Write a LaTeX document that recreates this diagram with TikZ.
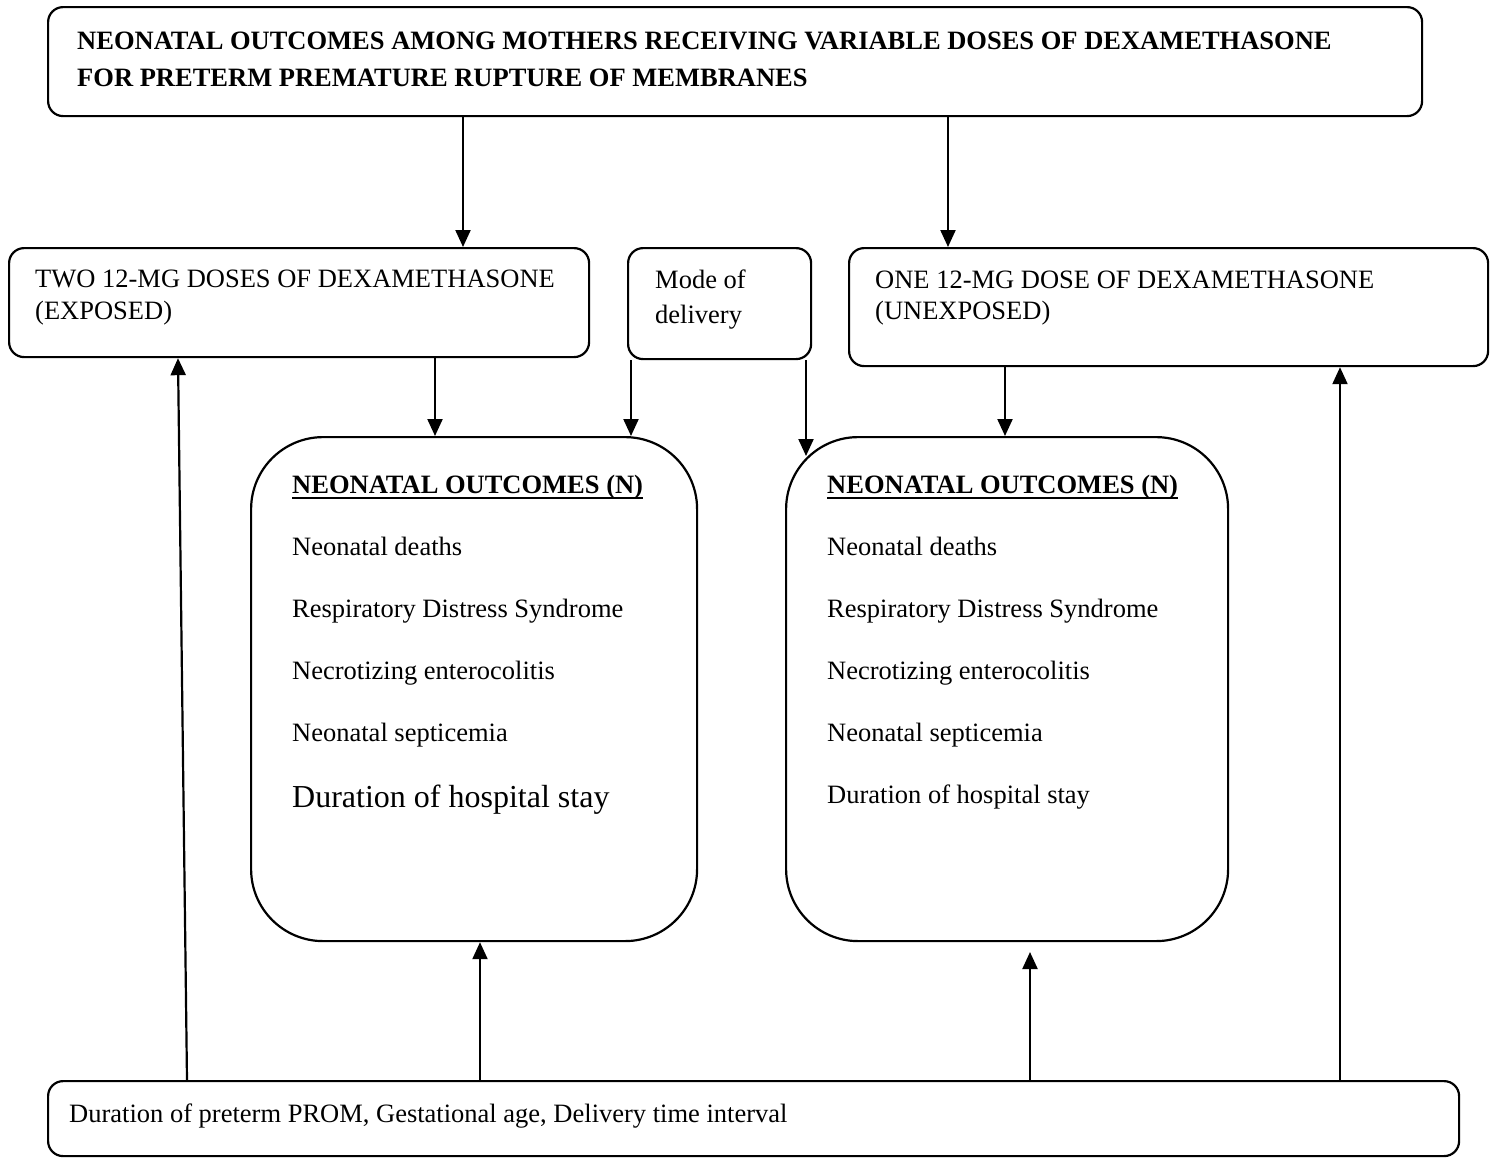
\documentclass[tikz,border=0pt]{standalone}
\usepackage{fontspec}
\setmainfont{Liberation Serif}
\usetikzlibrary{arrows.meta}
\begin{document}
\begin{tikzpicture}[x=1pt,y=-1pt,
  box/.style={draw, line width=2.2pt, rounded corners=15pt, inner sep=0pt, anchor=north west},
  bigbox/.style={box, rounded corners=72pt},
  txt/.style={inner sep=0pt, anchor=base west, font=\fontsize{26.5pt}{30pt}\selectfont},
  btxt/.style={inner sep=0pt, anchor=base west, font=\fontsize{26.5pt}{30pt}\selectfont\bfseries},
  ltxt/.style={inner sep=0pt, anchor=base west, font=\fontsize{32pt}{36pt}\selectfont},
  arr/.style={line width=2.2pt, -{Triangle[length=17pt,width=15pt]}}]
\useasboundingbox (0,0) rectangle (1496,1157);

% boxes
\node[box, minimum width=1374pt, minimum height=109pt] (top) at (47,6) {};
\node[box, minimum width=580pt, minimum height=109pt] (two) at (8,247) {};
\node[box, minimum width=183pt, minimum height=111pt] (mode) at (627,247) {};
\node[box, minimum width=639pt, minimum height=118pt] (one) at (848,247) {};
\node[bigbox, minimum width=446pt, minimum height=504pt] (n1) at (250,436) {};
\node[bigbox, minimum width=442pt, minimum height=504pt] (n2) at (785,436) {};
\node[box, minimum width=1411pt, minimum height=75pt] (bot) at (47,1080) {};

% texts
\node[btxt] (title1) at (77,49) {NEONATAL OUTCOMES AMONG MOTHERS RECEIVING VARIABLE DOSES OF DEXAMETHASONE};
\node[btxt] (title2) at (77,86) {FOR PRETERM PREMATURE RUPTURE OF MEMBRANES};
\node[txt] (two1) at (35,287) {TWO 12-MG DOSES OF DEXAMETHASONE};
\node[txt] (two2) at (35,319) {(EXPOSED)};
\node[txt] (mode1) at (655,288) {Mode of};
\node[txt] (mode2) at (655,323) {delivery};
\node[txt] (one1) at (875,288) {ONE 12-MG DOSE OF DEXAMETHASONE};
\node[txt] (one2) at (875,319) {(UNEXPOSED)};

\node[btxt] (h1) at (292,493) {NEONATAL OUTCOMES (N)};
\draw[line width=1.6pt] ([yshift=-5pt]h1.base west) -- ([yshift=-5pt]h1.base east);
\node[txt] (a1) at (292,555) {Neonatal deaths};
\node[txt] (b1) at (292,617) {Respiratory Distress Syndrome};
\node[txt] (c1) at (292,679) {Necrotizing enterocolitis};
\node[txt] (d1) at (292,741) {Neonatal septicemia};
\node[ltxt] (e1) at (292,807) {Duration of hospital stay};

\node[btxt] (h2) at (827,493) {NEONATAL OUTCOMES (N)};
\draw[line width=1.6pt] ([yshift=-5pt]h2.base west) -- ([yshift=-5pt]h2.base east);
\node[txt] (a2) at (827,555) {Neonatal deaths};
\node[txt] (b2) at (827,617) {Respiratory Distress Syndrome};
\node[txt] (c2) at (827,679) {Necrotizing enterocolitis};
\node[txt] (d2) at (827,741) {Neonatal septicemia};
\node[txt] (e2) at (827,803) {Duration of hospital stay};

\node[txt] (bottxt) at (69,1122) {Duration of preterm PROM, Gestational age, Delivery time interval};

% connector x positions
\coordinate (xa) at (463,0);
\coordinate (xb) at (948,0);
\coordinate (xc) at (435,0);
\coordinate (xd) at (631,0);
\coordinate (xe) at (806,0);
\coordinate (xf) at (1005,0);
\coordinate (xg) at (187,0);
\coordinate (xh) at (178,0);
\coordinate (xi) at (480,0);
\coordinate (xj) at (1030,0);
\coordinate (xk) at (1340,0);
\coordinate (mend) at (806,456);
\coordinate (jend) at (1030,952);

% connectors
\draw[arr] (top.south -| xa) -- (two.north -| xa);
\draw[arr] (top.south -| xb) -- (one.north -| xb);
\draw[arr] (two.south -| xc) -- (n1.north -| xc);
\draw[arr] (mode.south -| xd) -- (n1.north -| xd);
\draw[arr] (mode.south -| xe) -- (mend);
\draw[arr] (one.south -| xf) -- (n2.north -| xf);
\draw[arr] (bot.north -| xg) -- (two.south -| xh);
\draw[arr] (bot.north -| xi) -- (n1.south -| xi);
\draw[arr] (bot.north -| xj) -- (jend);
\draw[arr] (bot.north -| xk) -- (one.south -| xk);
\end{tikzpicture}
\end{document}
